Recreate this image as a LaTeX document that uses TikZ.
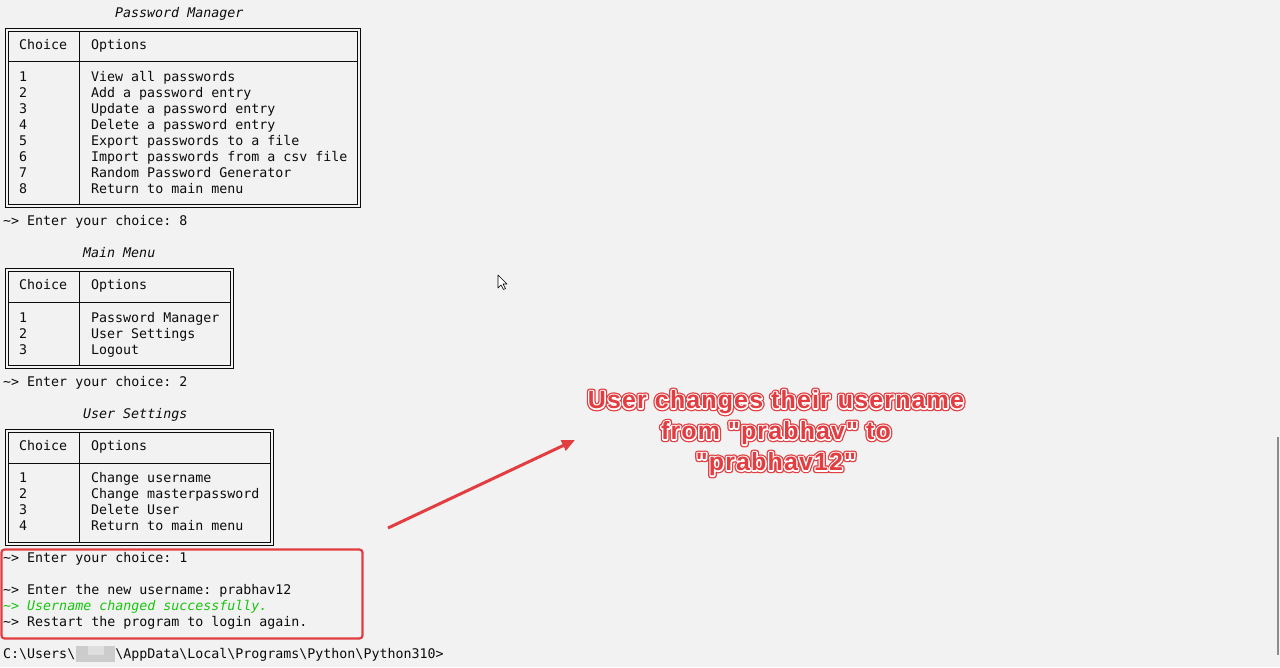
\documentclass[tikz,border=0pt]{standalone}
\usepackage{fontspec}
\setmonofont{DejaVu Sans Mono}
\newfontfamily\notefont{Liberation Sans Bold}[LetterSpace=4.5]
\newfontfamily\notehalo{Liberation Sans Bold}[LetterSpace=4.5,FakeBold=11]
\newfontfamily\noterim{Liberation Sans Bold}[LetterSpace=4.5,FakeBold=21]
\usetikzlibrary{arrows.meta}

\definecolor{termbg}{RGB}{242,242,242}
\definecolor{termfg}{RGB}{12,12,12}
\definecolor{termgreen}{RGB}{22,198,12}
\definecolor{markred}{RGB}{226,62,66}
\definecolor{bargray}{RGB}{140,140,140}

\newcommand{\termprompt}{\textasciitilde> }
\newcommand{\pathsep}{\textbackslash}
\newcommand{\notetext}{User changes their username\\from "prabhav" to\\"prabhav12"}

\tikzset{
  termtext/.style={anchor=base west, inner sep=0pt, text=termfg,
    font=\ttfamily\fontsize{13.3}{16}\selectfont},
  menutitle/.style={termtext, font=\ttfamily\itshape\fontsize{13.3}{16}\selectfont},
  okline/.style={termtext, text=termgreen, font=\ttfamily\itshape\fontsize{13.3}{16}\selectfont},
  framebox/.style={draw=termfg, line width=1pt, double=termbg, double distance=2pt},
  gridrule/.style={draw=termfg, line width=1pt},
  callout/.style={inner sep=0pt, align=center, line join=round},
  hintarrow/.style={draw=markred, line width=3pt, -{Triangle[length=13pt,width=11pt]}}
}

\begin{document}
\begin{tikzpicture}[x=1pt,y=-1pt]
  \useasboundingbox (0,0) rectangle (1280,667);
  \fill[termbg] (0,0) rectangle (1280,667);

  % password manager menu
  \node[menutitle] (pmtitle) at (115,17) {Password Manager};
  \draw[framebox] (7,29.8) rectangle (358.7,205.5);
  \draw[gridrule] (79,31.3) -- (79,204);
  \draw[gridrule] (8.5,61.7) -- (357.2,61.7);
  \node[termtext] (pmchoice) at (19,49.1) {Choice};
  \node[termtext] (pmoptions) at (91,49.1) {Options};
  \node[termtext] (pmn1) at (19,81.2)  {1};
  \node[termtext] (pmn2) at (19,97.3)  {2};
  \node[termtext] (pmn3) at (19,113.4) {3};
  \node[termtext] (pmn4) at (19,129.5) {4};
  \node[termtext] (pmn5) at (19,145.6) {5};
  \node[termtext] (pmn6) at (19,161.7) {6};
  \node[termtext] (pmn7) at (19,177.8) {7};
  \node[termtext] (pmn8) at (19,193.9) {8};
  \node[termtext] (pmo1) at (91,81.2)  {View all passwords};
  \node[termtext] (pmo2) at (91,97.3)  {Add a password entry};
  \node[termtext] (pmo3) at (91,113.4) {Update a password entry};
  \node[termtext] (pmo4) at (91,129.5) {Delete a password entry};
  \node[termtext] (pmo5) at (91,145.6) {Export passwords to a file};
  \node[termtext] (pmo6) at (91,161.7) {Import passwords from a csv file};
  \node[termtext] (pmo7) at (91,177.8) {Random Password Generator};
  \node[termtext] (pmo8) at (91,193.9) {Return to main menu};
  \node[termtext] (pick8) at (3,225.6) {\termprompt Enter your choice: 8};

  % main menu
  \node[menutitle] (mmtitle) at (83,257.8) {Main Menu};
  \draw[framebox] (7,270) rectangle (231.5,366.5);
  \draw[gridrule] (79,271.5) -- (79,365);
  \draw[gridrule] (8.5,302) -- (230,302);
  \node[termtext] (mmchoice) at (19,289.9) {Choice};
  \node[termtext] (mmoptions) at (91,289.9) {Options};
  \node[termtext] (mmn1) at (19,322) {1};
  \node[termtext] (mmn2) at (19,338) {2};
  \node[termtext] (mmn3) at (19,354) {3};
  \node[termtext] (mmo1) at (91,322) {Password Manager};
  \node[termtext] (mmo2) at (91,338) {User Settings};
  \node[termtext] (mmo3) at (91,354) {Logout};
  \node[termtext] (pick2) at (3,386.2) {\termprompt Enter your choice: 2};

  % user settings menu
  \node[menutitle] (ustitle) at (83,418.3) {User Settings};
  \draw[framebox] (7,430.5) rectangle (272,543.5);
  \draw[gridrule] (79,432) -- (79,542);
  \draw[gridrule] (8.5,463) -- (270.5,463);
  \node[termtext] (uschoice) at (19,450.4) {Choice};
  \node[termtext] (usoptions) at (91,450.4) {Options};
  \node[termtext] (usn1) at (19,482.5) {1};
  \node[termtext] (usn2) at (19,498.6) {2};
  \node[termtext] (usn3) at (19,514.6) {3};
  \node[termtext] (usn4) at (19,530.7) {4};
  \node[termtext] (uso1) at (91,482.5) {Change username};
  \node[termtext] (uso2) at (91,498.6) {Change masterpassword};
  \node[termtext] (uso3) at (91,514.6) {Delete User};
  \node[termtext] (uso4) at (91,530.7) {Return to main menu};

  % highlighted session output
  \node[termtext] (pick1) at (3,562.7) {\termprompt Enter your choice: 1};
  \node[termtext] (newname) at (3,594.8) {\termprompt Enter the new username: prabhav12};
  \node[okline] (changed) at (3,610.9) {\termprompt Username changed successfully.};
  \node[termtext] (restart) at (3,626.9) {\termprompt Restart the program to login again.};
  \draw[markred, line width=2.2pt, rounded corners=3pt] (1.5,549.5) rectangle (362.5,638.5);

  % shell prompt with hidden user name
  \node[termtext] (shell) at (3,658) {C:\pathsep Users\pathsep\phantom{xxxxx}\pathsep AppData\pathsep Local\pathsep Programs\pathsep Python\pathsep Python310>};
  \fill[black!20] (76,646) rectangle (115,662);
  \fill[black!13] (88,646) rectangle (104,655);

  % annotation
  \coordinate (tail) at (388,528);
  \coordinate (tip) at (575,440);
  \draw[hintarrow] (tail) -- (tip);
  \coordinate (notepos) at (776,433);
  \node[callout, text=markred, font=\noterim\fontsize{25}{31}\selectfont] (rim) at (notepos) {\notetext};
  \node[callout, text=white, font=\notehalo\fontsize{25}{31}\selectfont] (halo) at (notepos) {\notetext};
  \node[callout, text=markred, font=\notefont\fontsize{25}{31}\selectfont] (note) at (notepos) {\notetext};

  % mouse pointer and scroll bar
  \draw[black, fill=white, line width=0.6pt, line join=round]
    (498,275) -- (498,288) -- (501,285) -- (503.5,289.5) -- (505.5,288.5) -- (503,284) -- (507,284) -- cycle;
  \draw[bargray, line width=2pt] (1277.5,437) -- (1277.5,655);
\end{tikzpicture}
\end{document}
